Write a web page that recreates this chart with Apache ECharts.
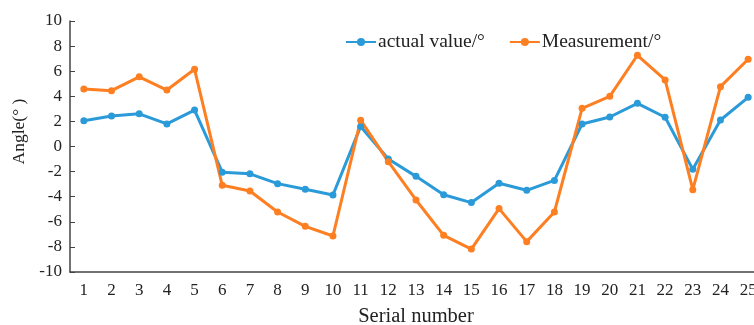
<!DOCTYPE html>
<html>
<head>
<meta charset="utf-8">
<script src="https://cdn.jsdelivr.net/npm/echarts@6/dist/echarts.min.js"></script>
<style>
  html, body { margin: 0; padding: 0; background: #fff; }
  #chart { width: 754px; height: 325px; }
</style>
</head>
<body>
<div id="chart"></div>
<script>
// Serial numbers 1..25 along the x axis
const serials = ['1','2','3','4','5','6','7','8','9','10','11','12','13','14','15','16','17','18','19','20','21','22','23','24','25'];

// Angles in degrees
const actualValue = [2.05, 2.43, 2.6, 1.8, 2.9, -2.05, -2.18, -2.96, -3.41, -3.86, 1.6, -1.0, -2.38, -3.84, -4.47, -2.93, -3.49, -2.7, 1.79, 2.35, 3.44, 2.33, -1.82, 2.11, 3.92];
const measurement = [4.58, 4.45, 5.55, 4.5, 6.15, -3.09, -3.55, -5.22, -6.36, -7.13, 2.1, -1.21, -4.26, -7.08, -8.17, -4.95, -7.58, -5.22, 3.04, 4.0, 7.27, 5.3, -3.44, 4.77, 6.95];

const FONT = '"Liberation Serif", "Times New Roman", serif';
const BLUE = '#2b9ad8';
const ORANGE = '#fd7f22';

const chart = echarts.init(document.getElementById('chart'));
chart.setOption({
  animation: false,
  textStyle: { fontFamily: FONT },
  // plot area runs past the right edge of the canvas, so the last column is clipped
  grid: { left: 70, top: 21, width: 692, height: 251, containLabel: false, outerBoundsMode: 'none' },
  legend: {
    top: 27,
    left: 340,
    itemGap: 24,
    itemWidth: 30,
    itemHeight: 10,
    textStyle: { fontFamily: FONT, fontSize: 19.5, color: '#222', padding: [0, 0, 0, -3] },
    data: ['actual value/°', 'Measurement/°']
  },
  xAxis: {
    type: 'category',
    data: serials,
    boundaryGap: true,
    name: 'Serial number',
    nameLocation: 'middle',
    nameGap: 34,
    nameTextStyle: { fontFamily: FONT, fontSize: 20.5, color: '#222' },
    axisLine: { onZero: false, lineStyle: { color: '#444', width: 1.5 } },
    axisTick: { inside: true, length: 4, lineStyle: { color: '#444' } },
    axisLabel: { fontFamily: FONT, fontSize: 17, color: '#222', margin: 10 },
    splitLine: { show: false }
  },
  yAxis: {
    type: 'value',
    min: -10,
    max: 10,
    interval: 2,
    name: 'Angle(° )',
    nameLocation: 'middle',
    nameRotate: 90,
    nameGap: 37,
    nameTextStyle: { fontFamily: FONT, fontSize: 17.5, color: '#222', padding: [0, 0, 0, 30] },
    axisLine: { show: true, onZero: false, lineStyle: { color: '#444', width: 1.5 } },
    axisTick: { show: true, inside: true, length: 5, lineStyle: { color: '#444' } },
    axisLabel: { fontFamily: FONT, fontSize: 17, color: '#222', margin: 8 },
    splitLine: { show: false }
  },
  series: [
    {
      name: 'actual value/°',
      type: 'line',
      data: actualValue,
      symbol: 'circle',
      symbolSize: 7,
      lineStyle: { color: BLUE, width: 3 },
      itemStyle: { color: BLUE }
    },
    {
      name: 'Measurement/°',
      type: 'line',
      data: measurement,
      symbol: 'circle',
      symbolSize: 7,
      lineStyle: { color: ORANGE, width: 3 },
      itemStyle: { color: ORANGE }
    }
  ]
});
</script>
</body>
</html>
